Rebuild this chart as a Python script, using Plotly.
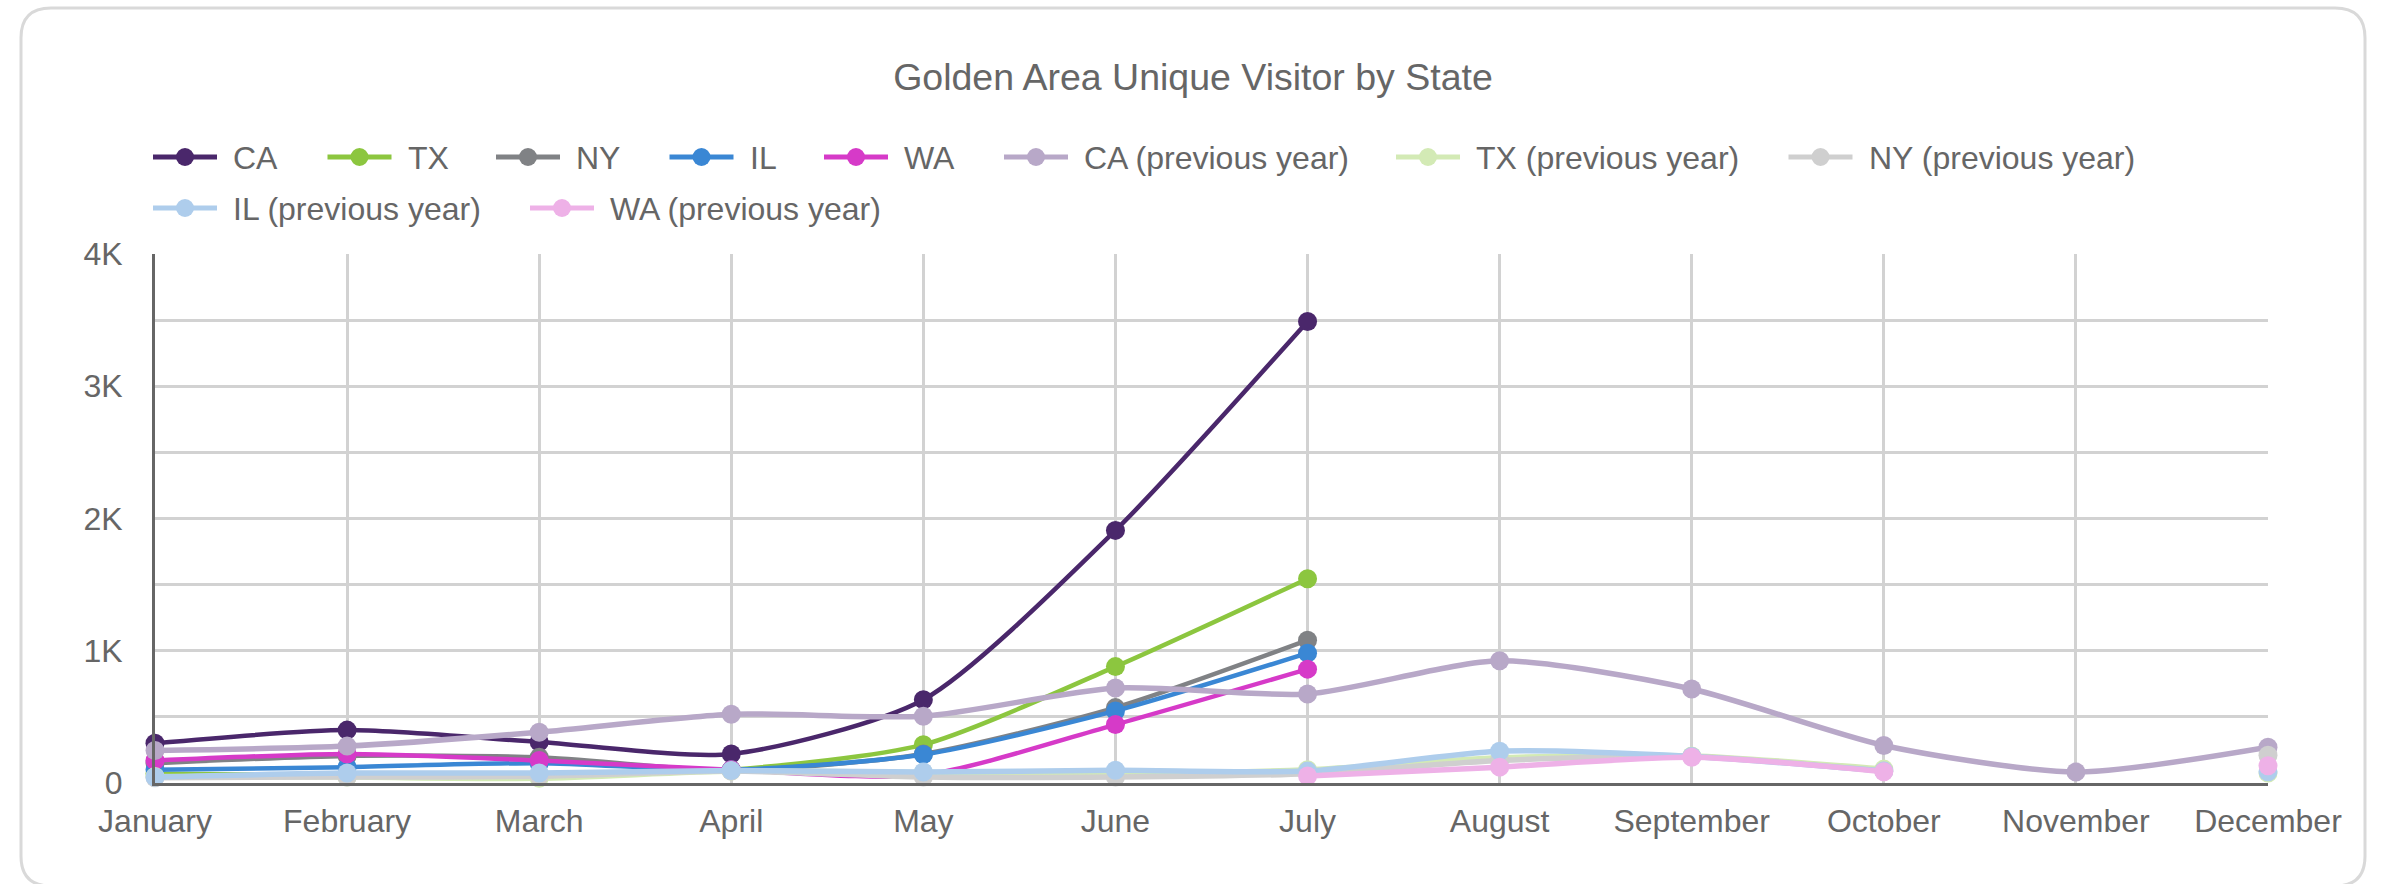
import plotly.graph_objects as go

# ---------------- data ----------------
months = ["January", "February", "March", "April", "May", "June",
          "July", "August", "September", "October", "November", "December"]

ca = [300, 400, 310, 220, 630, 1910, 3490, None, None, None, None, None]
tx = [70, 60, 55, 100, 290, 880, 1545, None, None, None, None, None]
ny = [150, 205, 195, 95, 220, 570, 1080, None, None, None, None, None]
il = [100, 120, 150, 100, 215, 545, 982, None, None, None, None, None]
wa = [170, 220, 170, 100, 60, 442, 861, None, None, None, None, None]

ca_prev = [246, 279, 384, 520, 505, 718, 673, 924, 711, 284, 83, 271]
tx_prev = [50, 45, 35, 90, 80, 70, 100, 190, 205, 105, None, 75]
ny_prev = [40, 45, 50, 90, 45, 45, 70, 170, 200, 90, None, 210]
il_prev = [45, 75, 75, 95, 83, 96, 90, 240, 200, 90, None, 85]
wa_prev = [None, None, None, None, None, None, 53, 120, 195, 85, None, 130]

series_names = ["CA", "TX", "NY", "IL", "WA",
                "CA (previous year)", "TX (previous year)", "NY (previous year)",
                "IL (previous year)", "WA (previous year)"]
series_values = [ca, tx, ny, il, wa, ca_prev, tx_prev, ny_prev, il_prev, wa_prev]
series_colors = ["#4a276b", "#8cc63f", "#808285", "#3a87d4", "#d63ac8",
                 "#b8a8c8", "#d3eab5", "#cfcfcf", "#aecdec", "#eeb1e7"]

y_tick_vals = [0, 500, 1000, 1500, 2000, 2500, 3000, 3500, 4000]
y_tick_text = ["0", "", "1K", "", "2K", "", "3K", "", "4K"]

title_text = "Golden Area Unique Visitor by State"

# ---------------- layout constants (pixels) ----------------
W, H = 2386, 884
L, R, T, B = 155, 118, 254, 101
PW, PH = W - L - R, H - T - B
FONT = "Liberation Sans, Arial, Helvetica, sans-serif"
TXT = "#666666"


def px2x(px):
    return (px - L) / PW


def py2y(py):
    return (H - B - py) / PH


fig = go.Figure()
for name, vals, col in zip(series_names, series_values, series_colors):
    prev = "previous" in name
    fig.add_trace(go.Scatter(
        x=months, y=vals, name=name, mode="lines+markers",
        line=dict(color=col, width=5.5 if prev else 4.5, shape="spline", smoothing=0.7),
        marker=dict(color=col, size=19, line=dict(width=0)),
        connectgaps=False, cliponaxis=False, showlegend=False,
    ))

shapes = []
# card with rounded corners
x0, y0, x1, y1, r = 21, 8, 2365, 886, 30
pts = [("M", x0 + r, y0), ("L", x1 - r, y0), ("Q", x1, y0, x1, y0 + r),
       ("L", x1, y1 - r), ("Q", x1, y1, x1 - r, y1), ("L", x0 + r, y1),
       ("Q", x0, y1, x0, y1 - r), ("L", x0, y0 + r), ("Q", x0, y0, x0 + r, y0)]
path = ""
for p in pts:
    cmd = p[0]
    coords = p[1:]
    seg = []
    for i in range(0, len(coords), 2):
        seg.append(f"{px2x(coords[i]):.5f},{py2y(coords[i+1]):.5f}")
    path += cmd + " " + " ".join(seg) + " "
path += "Z"
shapes.append(dict(type="path", path=path, xref="paper", yref="paper",
                   line=dict(color="#d9d9d9", width=3), fillcolor="rgba(0,0,0,0)",
                   layer="below"))

# custom legend (line + dot + text)
legend_pos = [(153, 157), (327.5, 157), (496, 157), (669.5, 157), (824, 157),
              (1004, 157), (1396, 157), (1788.5, 157), (153, 208), (530, 208)]
annotations = []
for (sx, sy), name, col in zip(legend_pos, series_names, series_colors):
    shapes.append(dict(type="line", xref="paper", yref="paper",
                       x0=px2x(sx), x1=px2x(sx + 64), y0=py2y(sy), y1=py2y(sy),
                       line=dict(color=col, width=5)))
    shapes.append(dict(type="circle", xref="paper", yref="paper",
                       xsizemode="pixel", ysizemode="pixel",
                       xanchor=px2x(sx + 32), yanchor=py2y(sy),
                       x0=-9, x1=9, y0=-9, y1=9,
                       fillcolor=col, line=dict(width=0)))
    annotations.append(dict(text=name, xref="paper", yref="paper",
                            x=px2x(sx + 78), y=py2y(sy + 1), xanchor="left", yanchor="middle",
                            showarrow=False, font=dict(size=32, color=TXT, family=FONT)))

fig.update_layout(
    width=W, height=H, autosize=False,
    template="none",
    paper_bgcolor="white", plot_bgcolor="white",
    margin=dict(l=L, r=R, t=T, b=B, pad=0),
    font=dict(family=FONT, color=TXT, size=32),
    title=dict(text=title_text, x=0.5, xref="container", xanchor="center",
               y=1 - 77 / H, yref="container", yanchor="middle",
               font=dict(size=37.5, color=TXT, family=FONT)),
    showlegend=False,
    shapes=shapes,
    annotations=annotations,
    xaxis=dict(type="category", categoryorder="array", categoryarray=months,
               range=[0, 11], showgrid=True, gridcolor="#d2d2d2", gridwidth=2.5,
               showline=True, linecolor="#666666", linewidth=3, zeroline=False,
               ticks="", ticklabelstandoff=8, automargin=False,
               tickfont=dict(size=32, color=TXT, family=FONT)),
    yaxis=dict(range=[0, 4000], tickvals=y_tick_vals, ticktext=y_tick_text,
               showgrid=True, gridcolor="#d2d2d2", gridwidth=2.5,
               showline=True, linecolor="#666666", linewidth=3, zeroline=False,
               ticks="", ticklabelstandoff=23, automargin=False,
               tickfont=dict(size=32, color=TXT, family=FONT)),
)

fig.write_html("out.html", config={"displayModeBar": False},
               post_script="document.body.style.margin='0px';document.body.style.overflow='hidden';")
